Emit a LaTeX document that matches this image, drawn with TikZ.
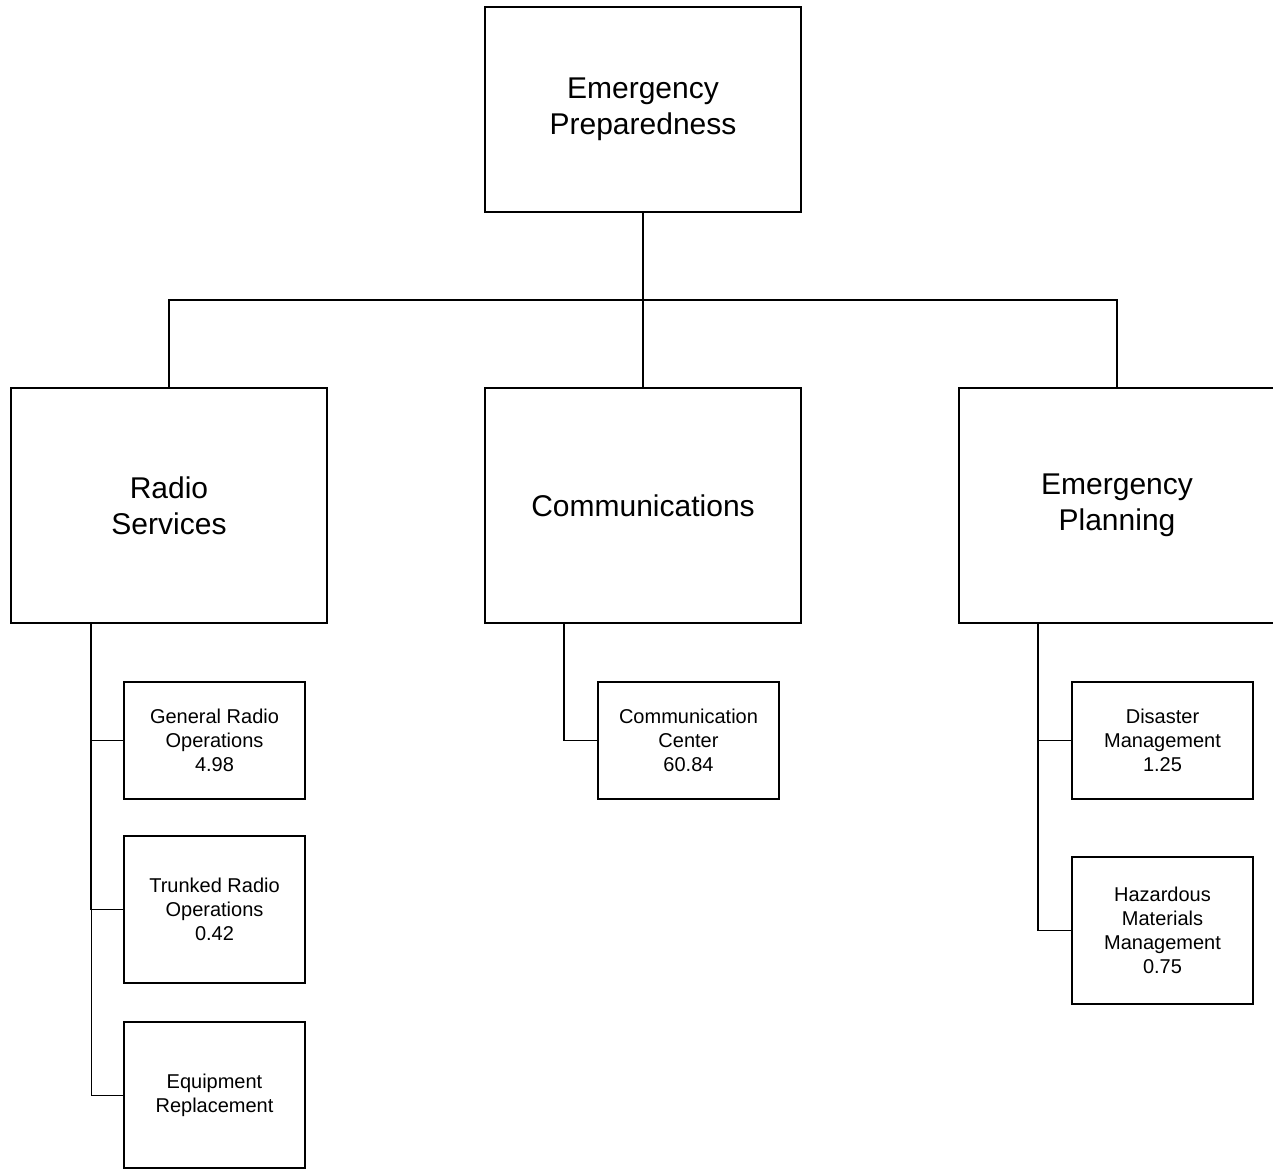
\documentclass[tikz,border=0pt]{standalone}
\usepackage{fontspec}
\setmainfont{Liberation Sans}
\begin{document}
\begin{tikzpicture}[x=1pt,y=-1pt,
  line width=1.5pt,
  bigbox/.style={draw, line width=1.5pt, minimum width=316pt, minimum height=235pt, align=center, inner sep=0pt, font=\fontsize{30pt}{36pt}\selectfont},
  smallbox/.style={draw, line width=1.5pt, minimum width=181pt, align=center, inner sep=0pt, font=\fontsize{20pt}{24pt}\selectfont},
  conn/.style={line width=1.5pt},
  thinconn/.style={line width=1pt}]
\useasboundingbox (0,0) rectangle (1273,1169);
\node[bigbox, minimum height=205pt] (top) at (643,109.5) {Emergency\\Preparedness};
\node[bigbox] (rs) at (169,505.5) {Radio\\Services};
\node[bigbox] (cm) at (643,505.5) {Communications};
\node[bigbox] (ep) at (1117,505.5) {Emergency\\Planning};
\node[smallbox, minimum height=117pt] (gro) at (214.5,740.5) {General Radio\\Operations\\4.98};
\node[smallbox, minimum height=147pt] (tro) at (214.5,909.5) {Trunked Radio\\Operations\\0.42};
\node[smallbox, minimum height=146pt] (er) at (214.5,1095) {Equipment\\Replacement};
\node[smallbox, minimum height=117pt] (cc) at (688.5,740.5) {Communication\\Center\\60.84};
\node[smallbox, minimum height=117pt] (dm) at (1162.5,740.5) {Disaster\\Management\\1.25};
\node[smallbox, minimum height=147pt] (hm) at (1162.5,930.5) {Hazardous\\Materials\\Management\\0.75};
\coordinate (bus) at (643,300);
\coordinate (rl) at (91,623);
\coordinate (cl) at (564,623);
\coordinate (el) at (1038,623);
\draw[conn] (top.south) -- (cm.north);
\draw[conn] (rs.north) |- (bus) -| (ep.north);
\draw[conn] (rl) |- (tro.west);
\draw[conn] (rl |- gro.west) -- (gro.west);
\draw[thinconn] (rl |- tro.west) |- (er.west);
\draw[conn] (cl) |- (cc.west);
\draw[conn] (el) |- (hm.west);
\draw[conn] (el |- dm.west) -- (dm.west);
\end{tikzpicture}
\end{document}
